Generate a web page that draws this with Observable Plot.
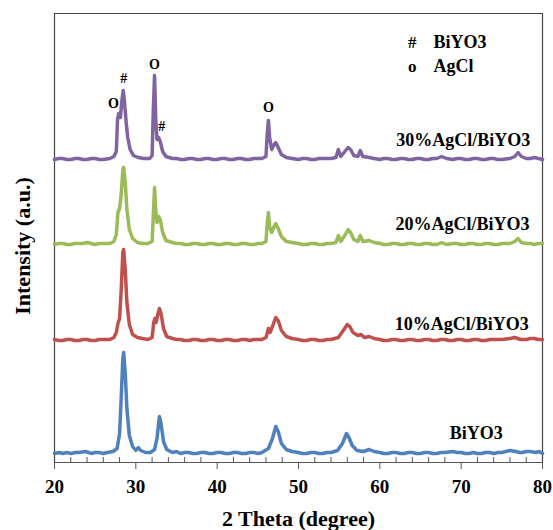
<!DOCTYPE html>
<html><head><meta charset="utf-8">
<script src="https://cdn.jsdelivr.net/npm/d3@7"></script>
<script src="https://cdn.jsdelivr.net/npm/@observablehq/plot@0.6"></script>
<style>body{margin:0;background:#fff}</style>
</head><body><div id="chart"></div>
<script>
// Series names and colours
const seriesNames = ["BiYO3", "10%AgCl/BiYO3", "20%AgCl/BiYO3", "30%AgCl/BiYO3"];
const seriesColors = ["#4F81BD", "#C0504D", "#9BBB59", "#8064A2"];
// vertical stacking offsets (a.u.)
const seriesOffsets = [9, 122, 218, 303];

// 2θ (deg), intensity (a.u.) for each pattern
const blue = [[20,0],[20.6,1],[21,0],[21.5,1],[22,0],[22.6,1],[23,1],[23.8,2],[24.2,1],[24.5,0],[25,1],[25.5,1],[26,0],[26.5,1],[27.2,2],[27.7,5],[28.0,20],[28.2,55],[28.4,95],[28.5,101],[28.7,80],[28.9,45],[29.2,18],[29.6,7],[30,3],[30.3,6],[30.6,3],[31.2,1],[31.8,1],[32.3,4],[32.6,15],[32.9,37],[33.1,30],[33.4,12],[33.8,4],[34.5,1],[35,2],[35.5,0],[36,1],[36.5,1],[37,0],[37.5,0],[38,1],[38.5,1],[39,0],[39.5,0],[40,1],[40.5,1],[41,0],[41.5,0],[42,1],[42.5,1],[43,0],[43.5,0],[44,1],[44.5,1],[45,0],[45.5,1],[46.3,5],[46.8,15],[47.2,27],[47.5,22],[47.9,10],[48.5,4],[49.2,2],[50,1],[50.5,0],[51,0],[51.5,1],[52,1],[52.5,0],[53,0],[53.5,1],[54,1],[54.8,3],[55.4,10],[55.9,20],[56.2,16],[56.6,8],[57.2,3],[58,2],[58.7,4],[59.3,2],[60,1],[60.5,0],[61,0],[61.5,1],[62,1],[62.5,0],[63,0],[63.5,1],[64,1],[64.5,0],[65,0],[65.5,1],[66,1],[66.5,0],[67,0],[67.5,1],[68,1],[69,2],[69.5,1],[70,1],[70.5,0],[71,0],[71.5,1],[72,0],[72.5,0],[73,1],[73.5,1],[74,0],[74.5,1],[75,1],[75.5,2],[76,3],[76.7,2],[77.2,1],[77.5,1],[78,2],[78.5,2],[79.2,1],[79.6,2],[80,0]];
const red = [[20,1],[20.5,0],[21,0],[21.5,1],[22,1],[22.5,0],[23,0],[23.5,1],[24,1],[24.5,0],[25,0],[25.5,1],[26,1],[26.8,1],[27.3,3],[27.6,8],[27.8,17],[28.0,22],[28.2,50],[28.4,88],[28.5,91],[28.7,70],[28.9,38],[29.2,16],[29.6,6],[30.2,3],[30.8,2],[31.5,1],[32.0,3],[32.2,18],[32.35,22],[32.5,18],[32.7,26],[32.9,32],[33.1,27],[33.4,12],[33.8,4],[34.5,2],[35,1],[35.5,1],[36,0],[36.5,0],[37,1],[37.5,1],[38,0],[38.5,0],[39,1],[39.5,1],[40,0],[40.5,0],[41,1],[41.5,1],[42,0],[42.5,0],[43,1],[43.5,1],[44,0],[44.5,1],[45.5,1],[46.0,3],[46.3,12],[46.5,8],[46.8,14],[47.2,23],[47.5,20],[47.9,10],[48.5,4],[49.2,2],[50,1],[50.5,0],[51,0],[51.5,1],[52,1],[52.5,0],[53,0],[53.5,1],[54,1],[54.9,3],[55.5,10],[56.0,16],[56.3,14],[56.7,8],[57.3,5],[57.7,6],[58.1,3],[58.7,4],[59.3,2],[60,1],[60.5,0],[61,0],[61.5,1],[62,1],[62.5,0],[63,0],[63.5,1],[64,1],[64.5,0],[65,0],[65.5,1],[66,1],[66.5,0],[67,0],[67.5,1],[68,1],[68.5,0],[69,0],[69.5,1],[70,1],[70.5,0],[71,0],[71.5,1],[72,1],[72.5,0],[73,0],[73.5,1],[74,1],[75,1],[76,2],[76.6,3],[77.3,1],[78,1],[78.5,2],[79,2],[79.5,1],[80,1]];
const green = [[20,0],[20.5,1],[21,1],[21.5,0],[22,0],[22.5,1],[23,1],[23.5,1],[24,2],[24.5,1],[25,0],[25.5,1],[26,1],[26.8,1],[27.3,3],[27.6,10],[27.8,32],[28.0,36],[28.2,50],[28.4,74],[28.5,77],[28.7,62],[28.9,35],[29.2,15],[29.6,6],[30.2,2],[30.8,1],[31.5,1],[32.0,3],[32.15,30],[32.3,57],[32.45,35],[32.6,22],[32.8,28],[33.0,25],[33.3,12],[33.7,4],[34.5,2],[35,1],[35.5,1],[36,0],[36.5,0],[37,1],[37.5,1],[38,0],[38.5,0],[39,1],[39.5,1],[40,0],[40.5,0],[41,1],[41.5,1],[42,0],[42.5,0],[43,1],[43.5,1],[44,0],[44.5,0],[45,1],[45.5,1],[46.0,3],[46.15,20],[46.3,32],[46.45,18],[46.7,12],[47.0,18],[47.2,21],[47.5,16],[47.9,8],[48.5,3],[49.2,2],[50,1],[50.5,0],[51,0],[51.5,1],[52,1],[52.5,0],[53,0],[53.5,1],[54,1],[54.6,2],[54.9,9],[55.2,3],[55.7,9],[56.1,15],[56.4,12],[56.8,5],[57.3,3],[57.6,9],[57.9,3],[58.7,4],[59.3,2],[60,1],[60.5,0],[61,0],[61.5,1],[62,1],[62.5,0],[63,0],[63.5,1],[64,1],[64.5,0],[65,0],[65.5,1],[66,1],[66.5,0],[67,0],[67.6,2],[68.2,0],[69,1],[69.5,1],[70,0],[70.5,0],[71,1],[71.5,1],[72,0],[72.5,0],[73,1],[73.5,1],[74,0],[74.5,0],[75,1],[76,1],[76.6,3],[77.0,6],[77.4,2],[78,1],[78.5,1],[79,0],[79.5,1],[80,1]];
const purple = [[20,0],[20.5,1],[21,1],[21.5,0],[22,0],[22.5,1],[23,1],[23.5,0],[24,0],[24.5,1],[25,1],[25.5,0],[26,0],[26.8,1],[27.3,3],[27.6,8],[27.75,40],[27.9,46],[28.1,42],[28.3,60],[28.45,69],[28.6,58],[28.8,38],[29.0,22],[29.3,10],[29.7,4],[30.3,2],[31,1],[31.7,1],[32.0,4],[32.15,50],[32.3,84],[32.45,40],[32.6,20],[32.8,22],[33.0,18],[33.3,8],[33.7,3],[34.5,1],[35,1],[35.5,0],[36,0],[36.5,1],[37,1],[37.5,0],[38,0],[38.5,1],[39,1],[39.5,0],[40,0],[40.5,1],[41,1],[41.5,0],[42,0],[42.5,1],[43,1],[43.5,0],[44,0],[44.5,1],[45.5,1],[46.0,3],[46.15,25],[46.3,39],[46.45,22],[46.7,10],[47.0,15],[47.2,17],[47.5,12],[47.9,5],[48.5,2],[49.2,1],[50,0],[50.5,1],[51,1],[51.5,0],[52,0],[52.5,1],[53,1],[54,1],[54.6,2],[54.9,10],[55.2,3],[55.7,8],[56.1,12],[56.4,10],[56.8,4],[57.3,3],[57.6,9],[57.9,3],[58.7,2],[59.3,1],[60,0],[60.5,1],[61,1],[61.5,0],[62,0],[62.5,1],[63,1],[63.5,0],[64,0],[64.5,1],[65,1],[65.5,0],[66,0],[66.5,1],[67,1],[67.6,3],[68.2,1],[69,0],[69.5,1],[70,1],[70.5,0],[71,0],[71.5,1],[72,1],[72.5,0],[73,0],[73.5,1],[74,1],[74.5,0],[75,0],[76,1],[76.6,3],[77.0,7],[77.4,3],[78,1],[78.5,1],[79,2],[79.5,1],[80,0]];
const seriesPoints = [blue, red, green, purple];

// series labels (right end x, y in a.u.)
const labelX = [75.1, 78.3, 78.4, 78.5];
const labelY = [29, 138, 238, 322];

// peak markers
const markText = ["O", "#", "O", "#", "O"];
const markX = [27.25, 28.5, 32.3, 33.2, 46.3];
const markY = [359, 384, 398, 336, 355];

// legend
const legendSymbols = ["#", "o"];
const legendNames = ["BiYO3", "AgCl"];
const legendY = [420, 396];

const majorTicks = [20, 30, 40, 50, 60, 70, 80];
const minorTicks = d3.range(22, 80, 2).filter(d => d % 10 !== 0);

const rows = seriesPoints.flatMap((pts, i) =>
  pts.map(([x, v]) => ({x, y: v + seriesOffsets[i], series: seriesNames[i]})));
const labels = seriesNames.map((n, i) => ({name: n, x: labelX[i], y: labelY[i]}));
const marks = markText.map((t, i) => ({t, x: markX[i], y: markY[i]}));
const legend = legendNames.map((n, i) => ({sym: legendSymbols[i], name: n, y: legendY[i]}));

const font = "'Liberation Serif','Times New Roman',serif";

const chart = Plot.plot({
  width: 553, height: 530,
  marginLeft: 54, marginRight: 11, marginTop: 13, marginBottom: 68,
  style: {fontFamily: font, background: "#fff", color: "#000"},
  x: {domain: [20, 80]},
  y: {domain: [0, 449], axis: null},
  color: {domain: seriesNames, range: seriesColors},
  marks: [
    Plot.ruleX([20, 80], {stroke: "#444", strokeWidth: 1.2}),
    Plot.ruleY([449], {stroke: "#444", strokeWidth: 1.2}),
    Plot.line(rows, {x: "x", y: "y", z: "series", stroke: "series", strokeWidth: 3.5, strokeLinejoin: "round"}),
    Plot.ruleY([0], {stroke: "#555", strokeWidth: 1.2}),
    Plot.axisX({ticks: minorTicks, tickSize: 5, dy: -5, tickFormat: () => "", label: null, stroke: "#555"}),
    Plot.axisX({ticks: majorTicks, tickSize: 7, tickPadding: 10, tickFormat: d => String(d), label: null,
      fontSize: 19, fontWeight: "bold", stroke: "#555", fill: "#000"}),
    Plot.text(labels, {x: "x", y: "y", text: "name", textAnchor: "end", lineAnchor: "middle",
      fontSize: 18, fontWeight: "bold", fill: "#000"}),
    Plot.text(marks, {x: "x", y: "y", text: "t", textAnchor: "middle", lineAnchor: "middle",
      fontSize: 14, fontWeight: "bold", fill: "#000"}),
    Plot.text(legend, {x: 64.0, y: "y", text: "sym", textAnchor: "middle", lineAnchor: "middle",
      fontSize: 17, fontWeight: "bold", fill: "#000"}),
    Plot.text(legend, {x: 66.6, y: "y", text: "name", textAnchor: "start", lineAnchor: "middle",
      fontSize: 18, fontWeight: "bold", fill: "#000"}),
    Plot.text(["2 Theta (degree)"], {frameAnchor: "bottom", dy: 56, textAnchor: "middle", lineAnchor: "middle",
      fontSize: 22, fontWeight: "bold", fill: "#000"}),
    Plot.text(["Intensity (a.u.)"], {frameAnchor: "left", dx: -32, dy: 8, rotate: -90, textAnchor: "middle",
      lineAnchor: "middle", fontSize: 22, fontWeight: "bold", fill: "#000"})
  ]
});
document.getElementById("chart").appendChild(chart);
</script>
</body></html>
